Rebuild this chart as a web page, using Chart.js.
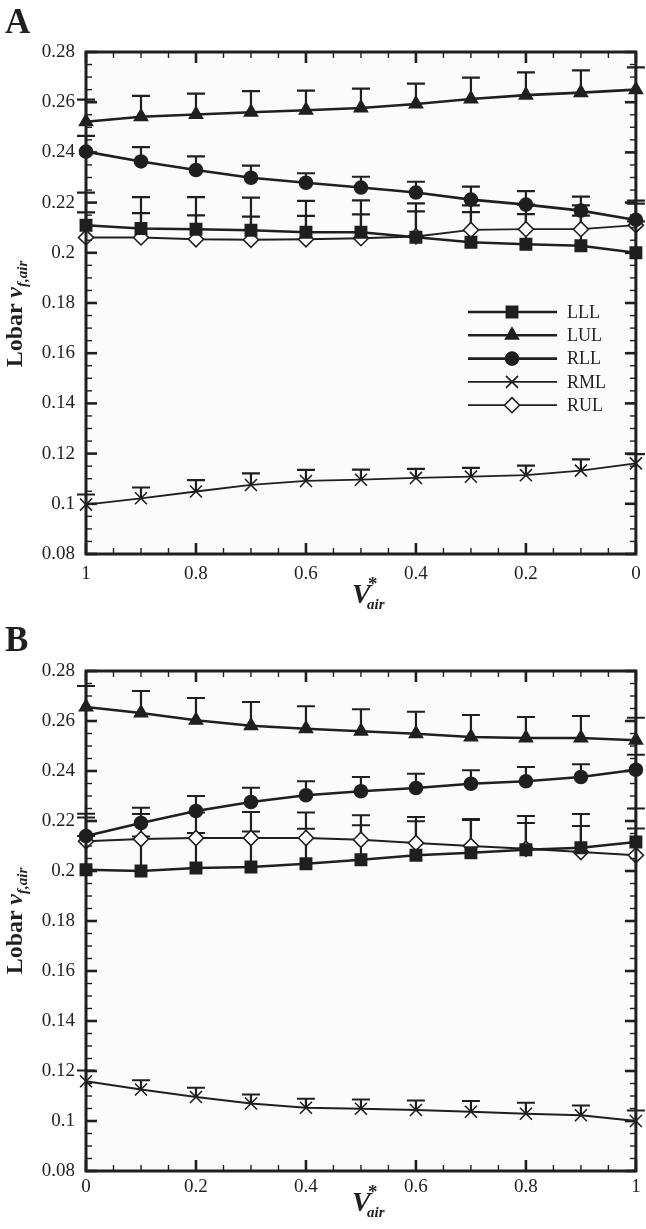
<!DOCTYPE html>
<html>
<head>
<meta charset="utf-8">
<script src="https://cdn.jsdelivr.net/npm/chart.js@4.4.1/dist/chart.umd.min.js"></script>
<style>
  body { margin: 0; background: #fff; }
  #wrap { position: relative; width: 646px; height: 1229px; color: #1f1f1f; font-family: 'Liberation Serif', serif; }
  canvas { position: absolute; left: 0; }
  .panel { position: absolute; left: 5px; font: bold 35px/35px 'Liberation Serif', serif; }
  .ytitle { position: absolute; left: 14px; transform: translate(-50%, -50%) rotate(-90deg); white-space: nowrap;
            font: bold 24px/24px 'Liberation Serif', serif; }
  .ytitle i { font-style: italic; }
  .ytitle .sub { position: relative; top: 5px; font: italic bold 15px 'Liberation Serif', serif; }
  .xtitle { position: absolute; left: 352px; width: 40px; height: 34px; }
  .xtitle span { position: absolute; white-space: nowrap; font-family: 'Liberation Serif', serif; font-weight: bold; }
  .xtitle .V { left: 0; top: 0; font-style: italic; font-size: 28px; line-height: 28px; }
  .xtitle .star { left: 16px; top: -6px; font-size: 19px; line-height: 19px; }
  .xtitle .air { left: 15px; top: 17px; font-style: italic; font-size: 15px; line-height: 15px; }
</style>
</head>
<body>
<div id="wrap">
  <canvas id="chartA" width="646" height="620" style="top:0"></canvas>
  <canvas id="chartB" width="646" height="609" style="top:620px"></canvas>

  <div class="panel" style="top:4px">A</div>
  <div class="ytitle" style="top:314px">Lobar <i>v</i><span class="sub">f,air</span></div>
  <div class="xtitle" style="top:580px"><span class="V">V</span><span class="star">*</span><span class="air">air</span></div>

  <div class="panel" style="top:622px">B</div>
  <div class="ytitle" style="top:921px">Lobar <i>v</i><span class="sub">f,air</span></div>
  <div class="xtitle" style="top:1188px"><span class="V">V</span><span class="star">*</span><span class="air">air</span></div>
</div>

<script>
// lobes, in legend order
const lobes = ['LLL', 'LUL', 'RLL', 'RML', 'RUL'];

const xTicks = [0, 0.2, 0.4, 0.6, 0.8, 1];
const yTicks = [0.08, 0.10, 0.12, 0.14, 0.16, 0.18, 0.20, 0.22, 0.24, 0.26, 0.28];

// panel A: V*air goes from 1 down to 0
const xA = [1, 0.9, 0.8, 0.7, 0.6, 0.5, 0.4, 0.3, 0.2, 0.1, 0];
const lllA = [0.2110, 0.2097, 0.2094, 0.2090, 0.2082, 0.2082, 0.2062, 0.2042, 0.2034, 0.2028, 0.2000];
const lulA = [0.2522, 0.2542, 0.2551, 0.2560, 0.2568, 0.2577, 0.2593, 0.2613, 0.2628, 0.2638, 0.2650];
const rllA = [0.2403, 0.2364, 0.2330, 0.2299, 0.2279, 0.2260, 0.2240, 0.2212, 0.2192, 0.2168, 0.2131];
const rmlA = [0.0997, 0.1022, 0.1049, 0.1075, 0.1091, 0.1096, 0.1103, 0.1108, 0.1114, 0.1132, 0.1161];
const rulA = [0.2061, 0.2061, 0.2054, 0.2052, 0.2054, 0.2058, 0.2065, 0.2091, 0.2094, 0.2094, 0.2110];
// upper error (one-sided bars)
const lllErrA = [0.0130, 0.0125, 0.0128, 0.0130, 0.0125, 0.0127, 0.0135, 0.0120, 0.0120, 0.0120, 0.0125];
const lulErrA = [0.0088, 0.0083, 0.0083, 0.0084, 0.0078, 0.0077, 0.0081, 0.0085, 0.0091, 0.0089, 0.0089];
const rllErrA = [0.0063, 0.0057, 0.0054, 0.0048, 0.0038, 0.0043, 0.0043, 0.0052, 0.0054, 0.0056, 0.0065];
const rmlErrA = [0.0040, 0.0043, 0.0045, 0.0046, 0.0044, 0.0040, 0.0036, 0.0035, 0.0038, 0.0045, 0.0037];
const rulErrA = [0.0100, 0.0097, 0.0095, 0.0092, 0.0093, 0.0095, 0.0100, 0.0098, 0.0098, 0.0095, 0.0098];

// panel B: V*air goes from 0 up to 1
const xB = [0, 0.1, 0.2, 0.3, 0.4, 0.5, 0.6, 0.7, 0.8, 0.9, 1];
const lllB = [0.2005, 0.2000, 0.2012, 0.2016, 0.2029, 0.2045, 0.2063, 0.2073, 0.2085, 0.2093, 0.2116];
const lulB = [0.2656, 0.2632, 0.2603, 0.2581, 0.2569, 0.2559, 0.2549, 0.2536, 0.2532, 0.2532, 0.2523];
const rllB = [0.2140, 0.2192, 0.2240, 0.2276, 0.2303, 0.2319, 0.2332, 0.2349, 0.2359, 0.2376, 0.2405];
const rmlB = [0.1159, 0.1126, 0.1096, 0.1070, 0.1053, 0.1049, 0.1044, 0.1037, 0.1029, 0.1023, 0.1000];
const rulB = [0.2119, 0.2128, 0.2132, 0.2132, 0.2132, 0.2125, 0.2112, 0.2100, 0.2089, 0.2076, 0.2063];
const lllErrB = [0.0135, 0.0138, 0.0140, 0.0142, 0.0140, 0.0138, 0.0136, 0.0135, 0.0135, 0.0135, 0.0134];
const lulErrB = [0.0084, 0.0088, 0.0089, 0.0095, 0.0090, 0.0088, 0.0088, 0.0088, 0.0084, 0.0088, 0.0090];
const rllErrB = [0.0089, 0.0061, 0.0060, 0.0057, 0.0056, 0.0057, 0.0057, 0.0054, 0.0057, 0.0051, 0.0060];
const rmlErrB = [0.0043, 0.0037, 0.0037, 0.0036, 0.0036, 0.0037, 0.0038, 0.0043, 0.0044, 0.0039, 0.0042];
const rulErrB = [0.0095, 0.0100, 0.0102, 0.0104, 0.0102, 0.0098, 0.0104, 0.0104, 0.0103, 0.0104, 0.0107];

const ink = '#1f1f1f';
const markers = {
  LLL: { style: 'rect', r: 8, fill: ink, lw: 2.6 },
  LUL: { style: 'triangle', r: 7.5, fill: ink, lw: 2.6 },
  RLL: { style: 'circle', r: 6.5, fill: ink, lw: 2.6 },
  RML: { style: 'crossRot', r: 8.5, fill: ink, lw: 1.8 },
  RUL: { style: 'rectRot', r: 7.5, fill: '#fff', lw: 1.8 }
};

Chart.defaults.font.family = "'Liberation Serif', serif";
Chart.defaults.color = ink;

const fmt = v => String(+(+v).toFixed(2));

// one-sided error bars, drawn under the lines
const errorBars = {
  id: 'errorBars',
  beforeDatasetsDraw(chart) {
    const { ctx, scales: { x, y } } = chart;
    ctx.save();
    ctx.strokeStyle = ink;
    ctx.lineWidth = 2.2;
    chart.data.datasets.forEach(ds => {
      ds.data.forEach((p, i) => {
        const px = x.getPixelForValue(p.x);
        const y0 = y.getPixelForValue(p.y);
        const y1 = y.getPixelForValue(p.y + ds.errors[i]);
        ctx.beginPath();
        ctx.moveTo(px, y0); ctx.lineTo(px, y1);
        ctx.moveTo(px - 9, y1); ctx.lineTo(px + 9, y1);
        ctx.stroke();
      });
    });
    ctx.restore();
  }
};

// box frame with inward ticks on all four sides
const frame = {
  id: 'frame',
  beforeDraw(chart) {
    const { ctx, chartArea: a } = chart;
    ctx.save();
    ctx.fillStyle = '#fbfbfb';
    ctx.fillRect(a.left, a.top, a.right - a.left, a.bottom - a.top);
    ctx.restore();
  },
  afterDraw(chart) {
    const { ctx, chartArea: a, scales: { x, y } } = chart;
    ctx.save();
    ctx.strokeStyle = ink;
    const seg = (x0, y0, x1, y1, w) => {
      ctx.lineWidth = w;
      ctx.beginPath(); ctx.moveTo(x0, y0); ctx.lineTo(x1, y1); ctx.stroke();
    };
    for (let i = 0; i < xTicks.length; i++) {
      for (let k = 0; k < 4; k++) {
        if (i === xTicks.length - 1 && k > 0) break;
        const v = xTicks[i] + k * (xTicks[1] - xTicks[0]) / 4;
        const px = x.getPixelForValue(v);
        const len = k === 0 ? 11 : 6;
        const w = k === 0 ? 2.6 : 1.4;
        seg(px, a.bottom, px, a.bottom - len, w);
        seg(px, a.top, px, a.top + len, w);
      }
    }
    for (let i = 0; i < yTicks.length; i++) {
      for (let k = 0; k < 4; k++) {
        if (i === yTicks.length - 1 && k > 0) break;
        const v = yTicks[i] + k * (yTicks[1] - yTicks[0]) / 4;
        const py = y.getPixelForValue(v);
        const len = k === 0 ? 11 : 6;
        const w = k === 0 ? 2.6 : 1.4;
        seg(a.left, py, a.left + len, py, w);
        seg(a.right, py, a.right - len, py, w);
      }
    }
    ctx.lineWidth = 3;
    ctx.strokeRect(a.left, a.top, a.right - a.left, a.bottom - a.top);
    ctx.restore();
  }
};

// legend box inside panel A
const lobeLegend = {
  id: 'lobeLegend',
  afterDatasetsDraw(chart) {
    const { ctx } = chart;
    ctx.save();
    ctx.font = "18px 'Liberation Serif'";
    ctx.textBaseline = 'middle';
    chart.data.datasets.forEach((ds, i) => {
      const m = markers[ds.label];
      const yy = 312 + i * 23.3;
      ctx.strokeStyle = ink;
      ctx.lineWidth = m.lw;
      ctx.beginPath(); ctx.moveTo(468, yy); ctx.lineTo(557, yy); ctx.stroke();
      ctx.fillStyle = m.fill;
      ctx.lineWidth = 1.6;
      Chart.helpers.drawPoint(ctx, { pointStyle: m.style, radius: m.r, rotation: 0, borderWidth: 1.6 }, 512, yy);
      ctx.fillStyle = ink;
      ctx.fillText(ds.label, 567, yy + 1);
    });
    ctx.restore();
  }
};

function makeChart(id, xs, series, errs, opts) {
  const datasets = lobes.map((name, j) => {
    const m = markers[name];
    return {
      label: name,
      data: xs.map((x, i) => ({ x, y: series[j][i] })),
      errors: errs[j],
      borderColor: ink,
      borderWidth: m.lw,
      pointStyle: m.style,
      pointRadius: m.r,
      pointBackgroundColor: m.fill,
      pointBorderColor: ink,
      pointBorderWidth: 1.6,
      tension: 0,
      clip: false
    };
  });
  const plugins = [frame, errorBars];
  if (opts.legend) plugins.push(lobeLegend);
  return new Chart(document.getElementById(id), {
    type: 'line',
    data: { datasets },
    plugins,
    options: {
      responsive: false,
      animation: false,
      layout: { padding: { top: opts.top, right: 7, left: 0, bottom: 0 } },
      plugins: { legend: { display: false }, tooltip: { enabled: false } },
      scales: {
        x: {
          type: 'linear', min: 0, max: 1, reverse: opts.reverse,
          grid: { display: false, drawTicks: false },
          border: { display: false },
          afterBuildTicks: s => { s.ticks = xTicks.map(v => ({ value: v })); },
          afterFit: s => { s.height = opts.xHeight; },
          ticks: { font: { size: 19 }, padding: opts.xPad, maxRotation: 0, autoSkip: false, callback: fmt }
        },
        y: {
          type: 'linear', min: 0.08, max: 0.28,
          grid: { display: false, drawTicks: false },
          border: { display: false },
          afterBuildTicks: s => { s.ticks = yTicks.map(v => ({ value: v })); },
          afterFit: s => { s.width = 86; },
          ticks: { font: { size: 19 }, padding: 11, autoSkip: false, callback: fmt }
        }
      }
    }
  });
}

makeChart('chartA', xA,
  [lllA, lulA, rllA, rmlA, rulA],
  [lllErrA, lulErrA, rllErrA, rmlErrA, rulErrA],
  { reverse: true, top: 52, xHeight: 66, xPad: 9, legend: true });

makeChart('chartB', xB,
  [lllB, lulB, rllB, rmlB, rulB],
  [lllErrB, lulErrB, rllErrB, rmlErrB, rulErrB],
  { reverse: false, top: 51, xHeight: 58, xPad: 5, legend: false });
</script>
</body>
</html>
